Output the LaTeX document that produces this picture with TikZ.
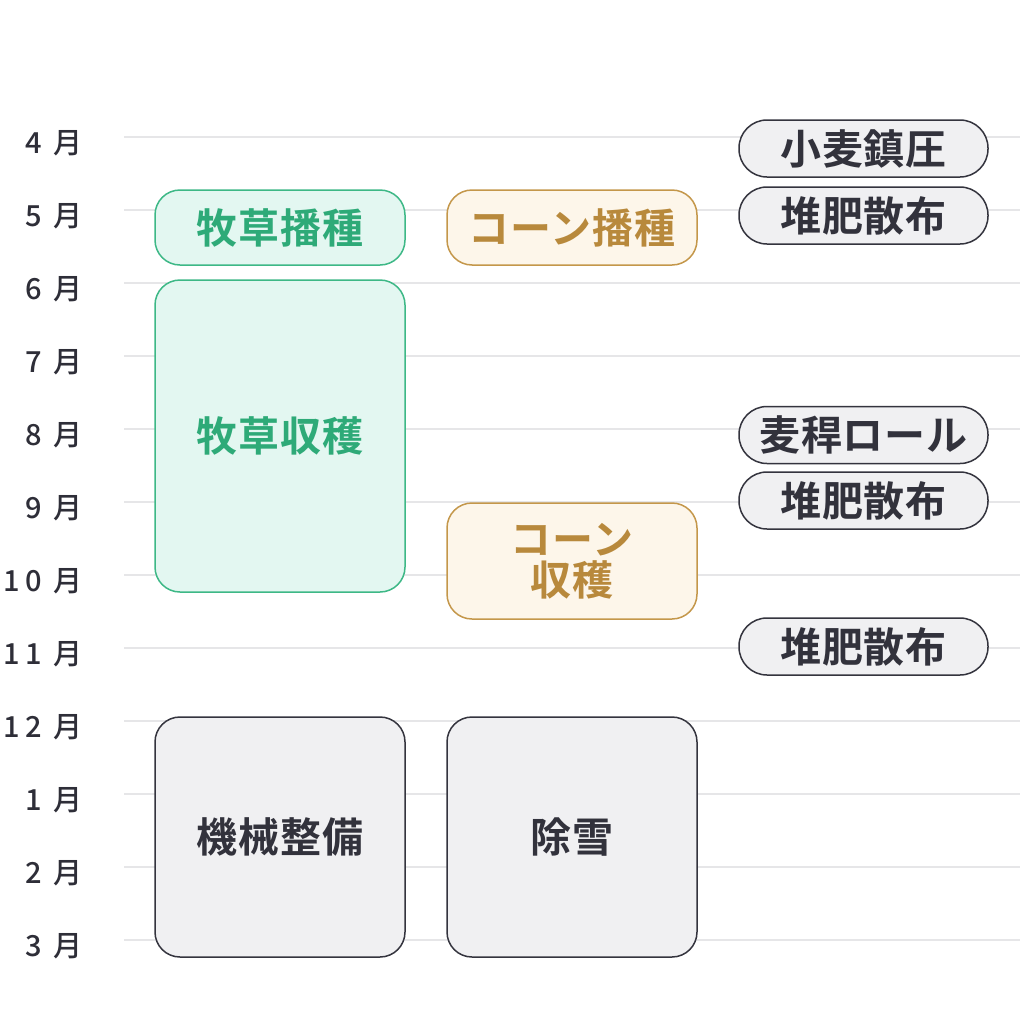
\documentclass[tikz,border=0pt]{standalone}
\usepackage{fontspec}
\setmainfont{Noto Sans CJK JP}
\newfontfamily\jpb[LetterSpace=2]{Noto Sans CJK JP Bold}
\newfontfamily\jpm[LetterSpace=18]{Noto Sans CJK JP Medium}
\definecolor{gridc}{HTML}{E6E6E8}
\definecolor{grs}{HTML}{3DB886}
\definecolor{grf}{HTML}{E3F7F1}
\definecolor{grt}{HTML}{2EAA78}
\definecolor{ors}{HTML}{C4974A}
\definecolor{orf}{HTML}{FDF6EA}
\definecolor{ort}{HTML}{B8893C}
\definecolor{gys}{HTML}{34343E}
\definecolor{gyf}{HTML}{F0F0F2}
\definecolor{gyt}{HTML}{32323C}
\definecolor{mtext}{HTML}{2E2E38}
\tikzset{
  month/.style={anchor=east, font=\jpm\fontsize{29pt}{32pt}\selectfont, text=mtext, inner sep=0pt, text height=0.8em, text depth=0.2em},
  box/.style={draw, line width=1.5pt, rounded corners=25pt, minimum width=250pt, align=center, inner sep=0pt, font=\jpb\fontsize{41pt}{44pt}\selectfont},
  greenbox/.style={box, draw=grs, fill=grf, text=grt},
  orangebox/.style={box, draw=ors, fill=orf, text=ort},
  graybox/.style={box, draw=gys, fill=gyf, text=gyt},
  pill/.style={box, draw=gys, fill=gyf, text=gyt, rounded corners=28pt, minimum width=249pt, minimum height=57pt},
  gridline/.style={draw=gridc, line width=2pt}
}
\begin{document}
\begin{tikzpicture}[x=1pt,y=-1pt]
\useasboundingbox (0,0) rectangle (1020,1020);
\fill[white] (0,0) rectangle (1020,1020);
% grid lines
\foreach \i in {0,...,11} {
  \coordinate (gl\i) at (124,137+73*\i);
  \coordinate (gr\i) at (1020,137+73*\i);
  \draw[gridline] (gl\i) -- (gr\i);
}
% month labels
\node[month] (m4) at (83,150) {4 月};
\node[month] (m5) at (83,223) {5 月};
\node[month] (m6) at (83,296) {6 月};
\node[month] (m7) at (83,369) {7 月};
\node[month] (m8) at (83,442) {8 月};
\node[month] (m9) at (83,515) {9 月};
\node[month] (m10) at (83,588) {10 月};
\node[month] (m11) at (83,661) {11 月};
\node[month] (m12) at (83,734) {12 月};
\node[month] (m1) at (83,807) {1 月};
\node[month] (m2) at (83,880) {2 月};
\node[month] (m3) at (83,953) {3 月};
% boxes
\node[greenbox, minimum height=75pt] (bokusow) at (280,227.5) {牧草播種};
\node[greenbox, minimum height=312pt] (bokuhar) at (280,436) {牧草収穫};
\node[orangebox, minimum height=75pt] (cornsow) at (572,227.5) {コーン播種};
\node[orangebox, minimum height=116pt] (cornhar) at (572,561) {コーン\\[-3pt]収穫};
\node[graybox, minimum height=240pt] (kikai) at (280,837) {機械整備};
\node[graybox, minimum height=240pt] (josetsu) at (572,837) {除雪};
% pills
\node[pill] (p1) at (863.5,148.5) {小麦鎮圧};
\node[pill] (p2) at (863.5,215.5) {堆肥散布};
\node[pill] (p3) at (863.5,435) {麦稈ロール};
\node[pill] (p4) at (863.5,500.5) {堆肥散布};
\node[pill] (p5) at (863.5,646.5) {堆肥散布};
\end{tikzpicture}
\end{document}
